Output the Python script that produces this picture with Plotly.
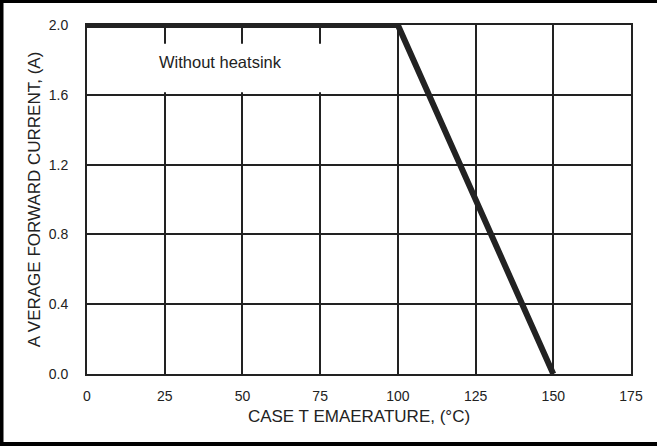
import plotly.graph_objects as go

# Data
temp_c = [0, 100, 150]
current_a = [2.0, 2.0, 0.0]
x_ticks = [0, 25, 50, 75, 100, 125, 150, 175]
y_ticks = [0.0, 0.4, 0.8, 1.2, 1.6, 2.0]
y_tick_labels = ["0.0", "0.4", "0.8", "1.2", "1.6", "2.0"]

W, H = 657, 446
ml, mr, mt, mb = 87, 26, 25, 72
pw, ph = W - ml - mr, H - mt - mb

FONT = "Liberation Sans, Arial, sans-serif"
DARK = "#222222"

fig = go.Figure()
fig.add_trace(go.Scatter(
    x=temp_c, y=current_a, mode="lines",
    line=dict(color=DARK, width=6),
    showlegend=False, hoverinfo="skip", cliponaxis=False,
))

def px_to_paper_x(px):
    return (px - ml) / pw

def px_to_paper_y(py):
    return (H - mb - py) / ph

shapes = [
    # white box behind label
    dict(type="rect", xref="x", yref="y", x0=4, x1=92, y0=1.615, y1=1.893,
         fillcolor="white", line=dict(width=0), layer="above"),
    # outer frame (left, top, bottom)
    dict(type="line", xref="paper", yref="paper",
         x0=px_to_paper_x(1.5), x1=px_to_paper_x(1.5),
         y0=px_to_paper_y(0), y1=px_to_paper_y(446),
         line=dict(color="black", width=4)),
    dict(type="line", xref="paper", yref="paper",
         x0=px_to_paper_x(0), x1=px_to_paper_x(657),
         y0=px_to_paper_y(1.5), y1=px_to_paper_y(1.5),
         line=dict(color="black", width=3)),
    dict(type="line", xref="paper", yref="paper",
         x0=px_to_paper_x(0), x1=px_to_paper_x(657),
         y0=px_to_paper_y(444), y1=px_to_paper_y(444),
         line=dict(color="black", width=4)),
]

fig.update_layout(
    width=W, height=H,
    margin=dict(l=ml, r=mr, t=mt, b=mb, pad=0),
    paper_bgcolor="white", plot_bgcolor="white",
    font=dict(family=FONT, size=14, color=DARK),
    shapes=shapes,
    annotations=[dict(
        x=43.0, y=1.79, xref="x", yref="y", text="Without heatsink",
        showarrow=False, font=dict(family=FONT, size=16.5, color=DARK),
    )],
    xaxis=dict(
        range=[0, 175], tickvals=x_ticks, showgrid=True, gridcolor=DARK, gridwidth=2,
        zeroline=False, showline=True, linecolor=DARK, linewidth=2, mirror=True,
        ticks="outside", ticklen=8, tickcolor="rgba(0,0,0,0)",
        tickfont=dict(size=14),
        title=dict(text="CASE T EMAERATURE, (°C)", font=dict(size=17), standoff=7),
    ),
    yaxis=dict(
        range=[0, 2.0], tickvals=y_ticks, ticktext=y_tick_labels, showgrid=True,
        gridcolor=DARK, gridwidth=2,
        zeroline=False, showline=True, linecolor=DARK, linewidth=2, mirror=True,
        ticks="outside", ticklen=14, tickcolor="rgba(0,0,0,0)",
        tickfont=dict(size=14),
        title=dict(text="A VERAGE FORWARD CURRENT, (A)", font=dict(size=17), standoff=4),
    ),
)

fig.write_html("out.html", config={"displayModeBar": False},
               post_script="document.body.style.margin='0';")
